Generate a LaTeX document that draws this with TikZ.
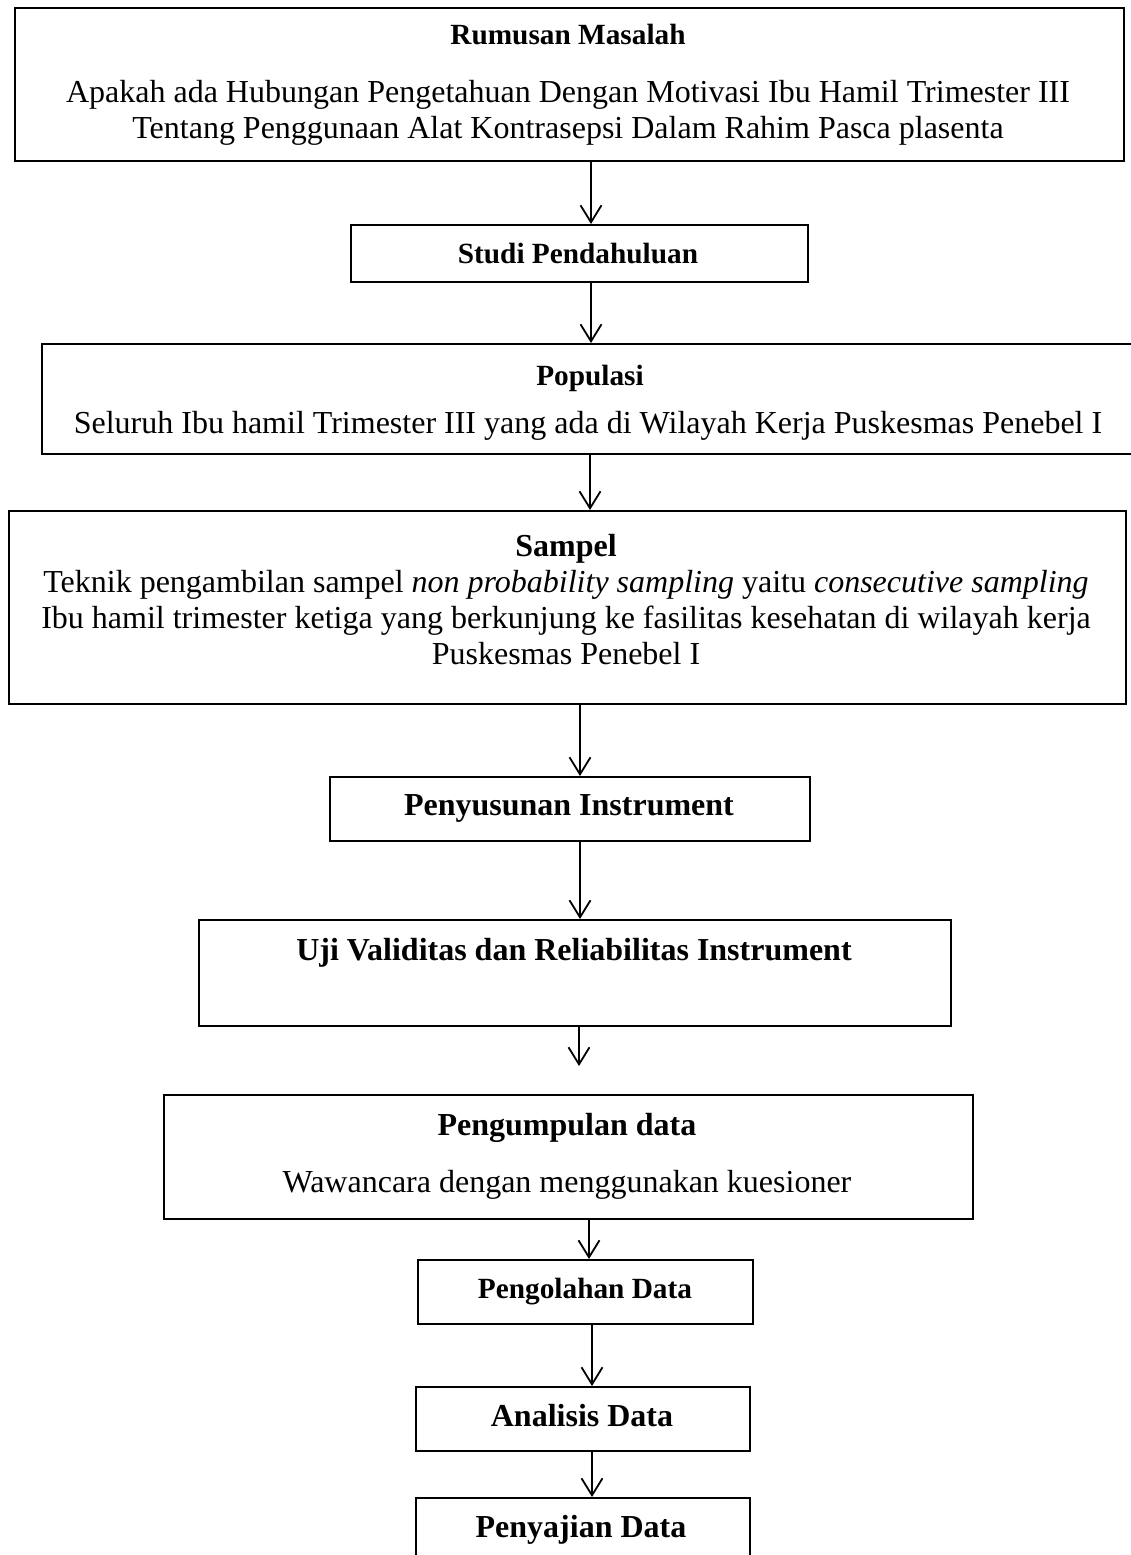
\documentclass[tikz,border=0pt]{standalone}
\usepackage{fontspec}
\setmainfont{Liberation Serif}
\usetikzlibrary{arrows.meta,calc}
\begin{document}
\begin{tikzpicture}[x=1pt,y=-1pt,
  box/.style={draw, line width=2pt, inner sep=0pt, anchor=north west},
  arr/.style={line width=1.8pt, -{Straight Barb[length=17pt,width=21pt,line width=1.8pt]}},
  big/.style={font=\fontsize{32}{36.5}\selectfont},
  bigb/.style={font=\fontsize{32}{36.5}\selectfont\bfseries},
  smb/.style={font=\fontsize{29.3}{34}\selectfont\bfseries},
  lbl/.style={anchor=base, inner sep=0pt}]
\useasboundingbox (0,0) rectangle (1131,1555);

% boxes
\node[box, minimum width=1109pt, minimum height=153pt] (b1) at (14,7) {};
\node[box, minimum width=457pt, minimum height=57pt] (b2) at (350,224) {};
\node[box, minimum width=1110pt, minimum height=110pt] (b3) at (41,343) {};
\node[box, minimum width=1117pt, minimum height=193pt] (b4) at (8,510) {};
\node[box, minimum width=480pt, minimum height=64pt] (b5) at (329,776) {};
\node[box, minimum width=752pt, minimum height=106pt] (b6) at (198,919) {};
\node[box, minimum width=809pt, minimum height=124pt] (b7) at (163,1094) {};
\node[box, minimum width=335pt, minimum height=64pt] (b8) at (417,1259) {};
\node[box, minimum width=334pt, minimum height=64pt] (b9) at (415,1386) {};
\node[box, minimum width=334pt, minimum height=80pt] (b10) at (415,1497) {};

% texts
\node[lbl, smb] (t1a) at (568,45) {Rumusan Masalah};
\node[lbl, big] (t1b) at (568,102) {Apakah ada Hubungan Pengetahuan Dengan Motivasi Ibu Hamil Trimester III};
\node[lbl, big] (t1c) at (568,138) {Tentang Penggunaan Alat Kontrasepsi Dalam Rahim Pasca plasenta};
\node[lbl, smb] (t2) at (578,263) {Studi Pendahuluan};
\node[lbl, smb] (t3a) at (590,385) {Populasi};
\node[lbl, big] (t3b) at (588,433) {Seluruh Ibu hamil Trimester III yang ada di Wilayah Kerja Puskesmas Penebel I};
\node[lbl, bigb] (t4a) at (566,556) {Sampel};
\node[lbl, big] (t4b) at (566,592) {Teknik pengambilan sampel \textit{non probability sampling} yaitu \textit{consecutive sampling}};
\node[lbl, big] (t4c) at (566,628) {Ibu hamil trimester ketiga yang berkunjung ke fasilitas kesehatan di wilayah kerja};
\node[lbl, big] (t4d) at (566,664) {Puskesmas Penebel I};
\node[lbl, bigb] (t5) at (569,815) {Penyusunan Instrument};
\node[lbl, bigb] (t6) at (574,960) {Uji Validitas dan Reliabilitas Instrument};
\node[lbl, bigb] (t7a) at (567,1135) {Pengumpulan data};
\node[lbl, big] (t7b) at (567,1192) {Wawancara dengan menggunakan kuesioner};
\node[lbl, smb] (t8) at (585,1298) {Pengolahan Data};
\node[lbl, bigb] (t9) at (582,1426) {Analisis Data};
\node[lbl, bigb] (t10) at (581,1537) {Penyajian Data};

% arrow columns
\coordinate (a12) at (591,0);
\coordinate (a34) at (590,0);
\coordinate (a45) at (580,0);
\coordinate (e67) at (579,1066);
\coordinate (a78) at (589,0);
\coordinate (a89) at (592,0);

\draw[arr] (b1.south -| a12) -- (b2.north -| a12);
\draw[arr] (b2.south -| a12) -- (b3.north -| a12);
\draw[arr] (b3.south -| a34) -- (b4.north -| a34);
\draw[arr] (b4.south -| a45) -- (b5.north -| a45);
\draw[arr] (b5.south -| a45) -- (b6.north -| a45);
\draw[arr] (b6.south -| e67) -- (e67);
\draw[arr] (b7.south -| a78) -- (b8.north -| a78);
\draw[arr] (b8.south -| a89) -- (b9.north -| a89);
\draw[arr] (b9.south -| a89) -- (b10.north -| a89);
\end{tikzpicture}
\end{document}
